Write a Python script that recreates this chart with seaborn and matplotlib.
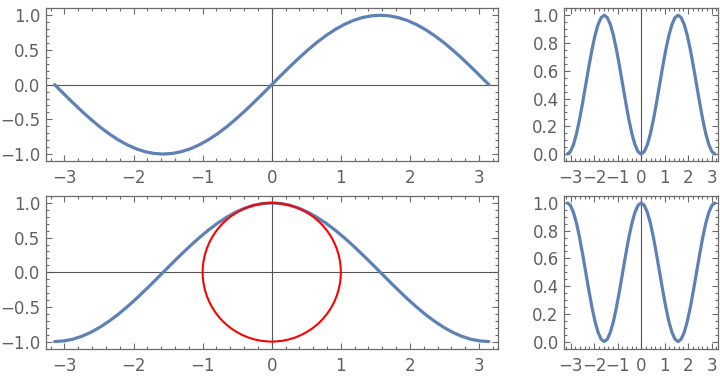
import numpy as np
import pandas as pd
import matplotlib
matplotlib.use("Agg")
import matplotlib.pyplot as plt
import seaborn as sns
from matplotlib.patches import Circle
from matplotlib.ticker import MultipleLocator

# ---- data ----
x_vals = [-3.142, -3.011, -2.880, -2.749, -2.618, -2.487, -2.356, -2.225, -2.094, -1.963,
          -1.833, -1.702, -1.571, -1.440, -1.309, -1.178, -1.047, -0.916, -0.785, -0.654,
          -0.524, -0.393, -0.262, -0.131, 0.0, 0.131, 0.262, 0.393, 0.524, 0.654,
          0.785, 0.916, 1.047, 1.178, 1.309, 1.440, 1.571, 1.702, 1.833, 1.963,
          2.094, 2.225, 2.356, 2.487, 2.618, 2.749, 2.880, 3.011, 3.142]

sin_vals = [0.0, -0.131, -0.259, -0.383, -0.5, -0.609, -0.707, -0.793, -0.866, -0.924,
            -0.966, -0.991, -1.0, -0.991, -0.966, -0.924, -0.866, -0.793, -0.707, -0.609,
            -0.5, -0.383, -0.259, -0.131, 0.0, 0.131, 0.259, 0.383, 0.5, 0.609,
            0.707, 0.793, 0.866, 0.924, 0.966, 0.991, 1.0, 0.991, 0.966, 0.924,
            0.866, 0.793, 0.707, 0.609, 0.5, 0.383, 0.259, 0.131, 0.0]

cos_vals = [-1.0, -0.991, -0.966, -0.924, -0.866, -0.793, -0.707, -0.609, -0.5, -0.383,
            -0.259, -0.131, 0.0, 0.131, 0.259, 0.383, 0.5, 0.609, 0.707, 0.793,
            0.866, 0.924, 0.966, 0.991, 1.0, 0.991, 0.966, 0.924, 0.866, 0.793,
            0.707, 0.609, 0.5, 0.383, 0.259, 0.131, 0.0, -0.131, -0.259, -0.383,
            -0.5, -0.609, -0.707, -0.793, -0.866, -0.924, -0.966, -0.991, -1.0]

sin2_vals = [0.0, 0.017, 0.067, 0.146, 0.25, 0.371, 0.5, 0.629, 0.75, 0.854,
             0.933, 0.983, 1.0, 0.983, 0.933, 0.854, 0.75, 0.629, 0.5, 0.371,
             0.25, 0.146, 0.067, 0.017, 0.0, 0.017, 0.067, 0.146, 0.25, 0.371,
             0.5, 0.629, 0.75, 0.854, 0.933, 0.983, 1.0, 0.983, 0.933, 0.854,
             0.75, 0.629, 0.5, 0.371, 0.25, 0.146, 0.067, 0.017, 0.0]

cos2_vals = [1.0, 0.983, 0.933, 0.854, 0.75, 0.629, 0.5, 0.371, 0.25, 0.146,
             0.067, 0.017, 0.0, 0.017, 0.067, 0.146, 0.25, 0.371, 0.5, 0.629,
             0.75, 0.854, 0.933, 0.983, 1.0, 0.983, 0.933, 0.854, 0.75, 0.629,
             0.5, 0.371, 0.25, 0.146, 0.067, 0.017, 0.0, 0.017, 0.067, 0.146,
             0.25, 0.371, 0.5, 0.629, 0.75, 0.854, 0.933, 0.983, 1.0]

circle_center = (0.0, 0.0)
circle_radius = 1.0

x_ticks = [-3, -2, -1, 0, 1, 2, 3]
y_ticks_wide = [-1.0, -0.5, 0.0, 0.5, 1.0]
y_ticks_narrow = [0.0, 0.2, 0.4, 0.6, 0.8, 1.0]

# ---- style ----
sns.set_style("ticks")
plt.rcParams['font.family'] = ['DejaVu Sans']
LINE = "#5E81B5"
FRAME = "#6b6b6b"
TXT = "#606060"

fig = plt.figure(figsize=(7.2, 3.78), dpi=100)

W, H = 720, 378
def add_ax(l, t, r, b):
    return fig.add_axes([l / W, (H - b) / H, (r - l) / W, (b - t) / H])

ax_tl = add_ax(46, 8.3, 497.5, 161)
ax_tr = add_ax(564.3, 8.3, 718, 161)
ax_bl = add_ax(46, 196, 497.5, 348.5)
ax_br = add_ax(564.3, 196, 718, 348.5)

df = pd.DataFrame({"x": x_vals, "sin": sin_vals, "cos": cos_vals,
                   "sin2": sin2_vals, "cos2": cos2_vals})

def style(ax, yticks, yminor, ylim, hline):
    xpad = 0.02 * (x_vals[-1] - x_vals[0])
    ax.set_xlim(x_vals[0] - xpad, x_vals[-1] + xpad)
    ax.set_ylim(*ylim)
    ax.set_xticks(x_ticks)
    ax.set_yticks(yticks)
    ax.xaxis.set_minor_locator(MultipleLocator(0.2))
    ax.yaxis.set_minor_locator(MultipleLocator(yminor))
    ax.set_xticklabels([f"{t:d}".replace("-", "\u2212") for t in x_ticks])
    ax.set_yticklabels([f"{t:.1f}".replace("-", "\u2212") for t in yticks])
    ax.tick_params(which="both", direction="in", top=True, right=True,
                   color=FRAME, width=0.8)
    ax.tick_params(which="major", length=4)
    ax.tick_params(which="minor", length=2)
    ax.tick_params(axis="both", labelsize=12, labelcolor=TXT)
    ax.tick_params(axis="x", pad=6)
    ax.tick_params(axis="y", pad=4)
    for s in ax.spines.values():
        s.set_visible(True)
        s.set_color(FRAME)
        s.set_linewidth(0.9)
    if hline:
        ax.axhline(0, color="#555555", lw=0.8, zorder=1)
    ax.axvline(0, color="#555555", lw=0.8, zorder=1)
    ax.set_xlabel("")
    ax.set_ylabel("")

sns.lineplot(data=df, x="x", y="sin", ax=ax_tl, color=LINE, lw=2.3, zorder=3)
sns.lineplot(data=df, x="x", y="sin2", ax=ax_tr, color=LINE, lw=2.3, zorder=3)
sns.lineplot(data=df, x="x", y="cos", ax=ax_bl, color=LINE, lw=2.3, zorder=3)
sns.lineplot(data=df, x="x", y="cos2", ax=ax_br, color=LINE, lw=2.3, zorder=3)
ax_bl.add_patch(Circle(circle_center, circle_radius, fill=False, ec="red", lw=1.5, zorder=4))

style(ax_tl, y_ticks_wide, 0.1, (-1.1, 1.1), True)
style(ax_bl, y_ticks_wide, 0.1, (-1.1, 1.1), True)
style(ax_tr, y_ticks_narrow, 0.05, (-0.05, 1.05), False)
style(ax_br, y_ticks_narrow, 0.05, (-0.05, 1.05), False)

for ax in (ax_tl, ax_tr, ax_bl, ax_br):
    for ln in ax.get_lines():
        ln.set_solid_capstyle("round")
        ln.set_solid_joinstyle("round")

fig.savefig("out.png", dpi=100)
